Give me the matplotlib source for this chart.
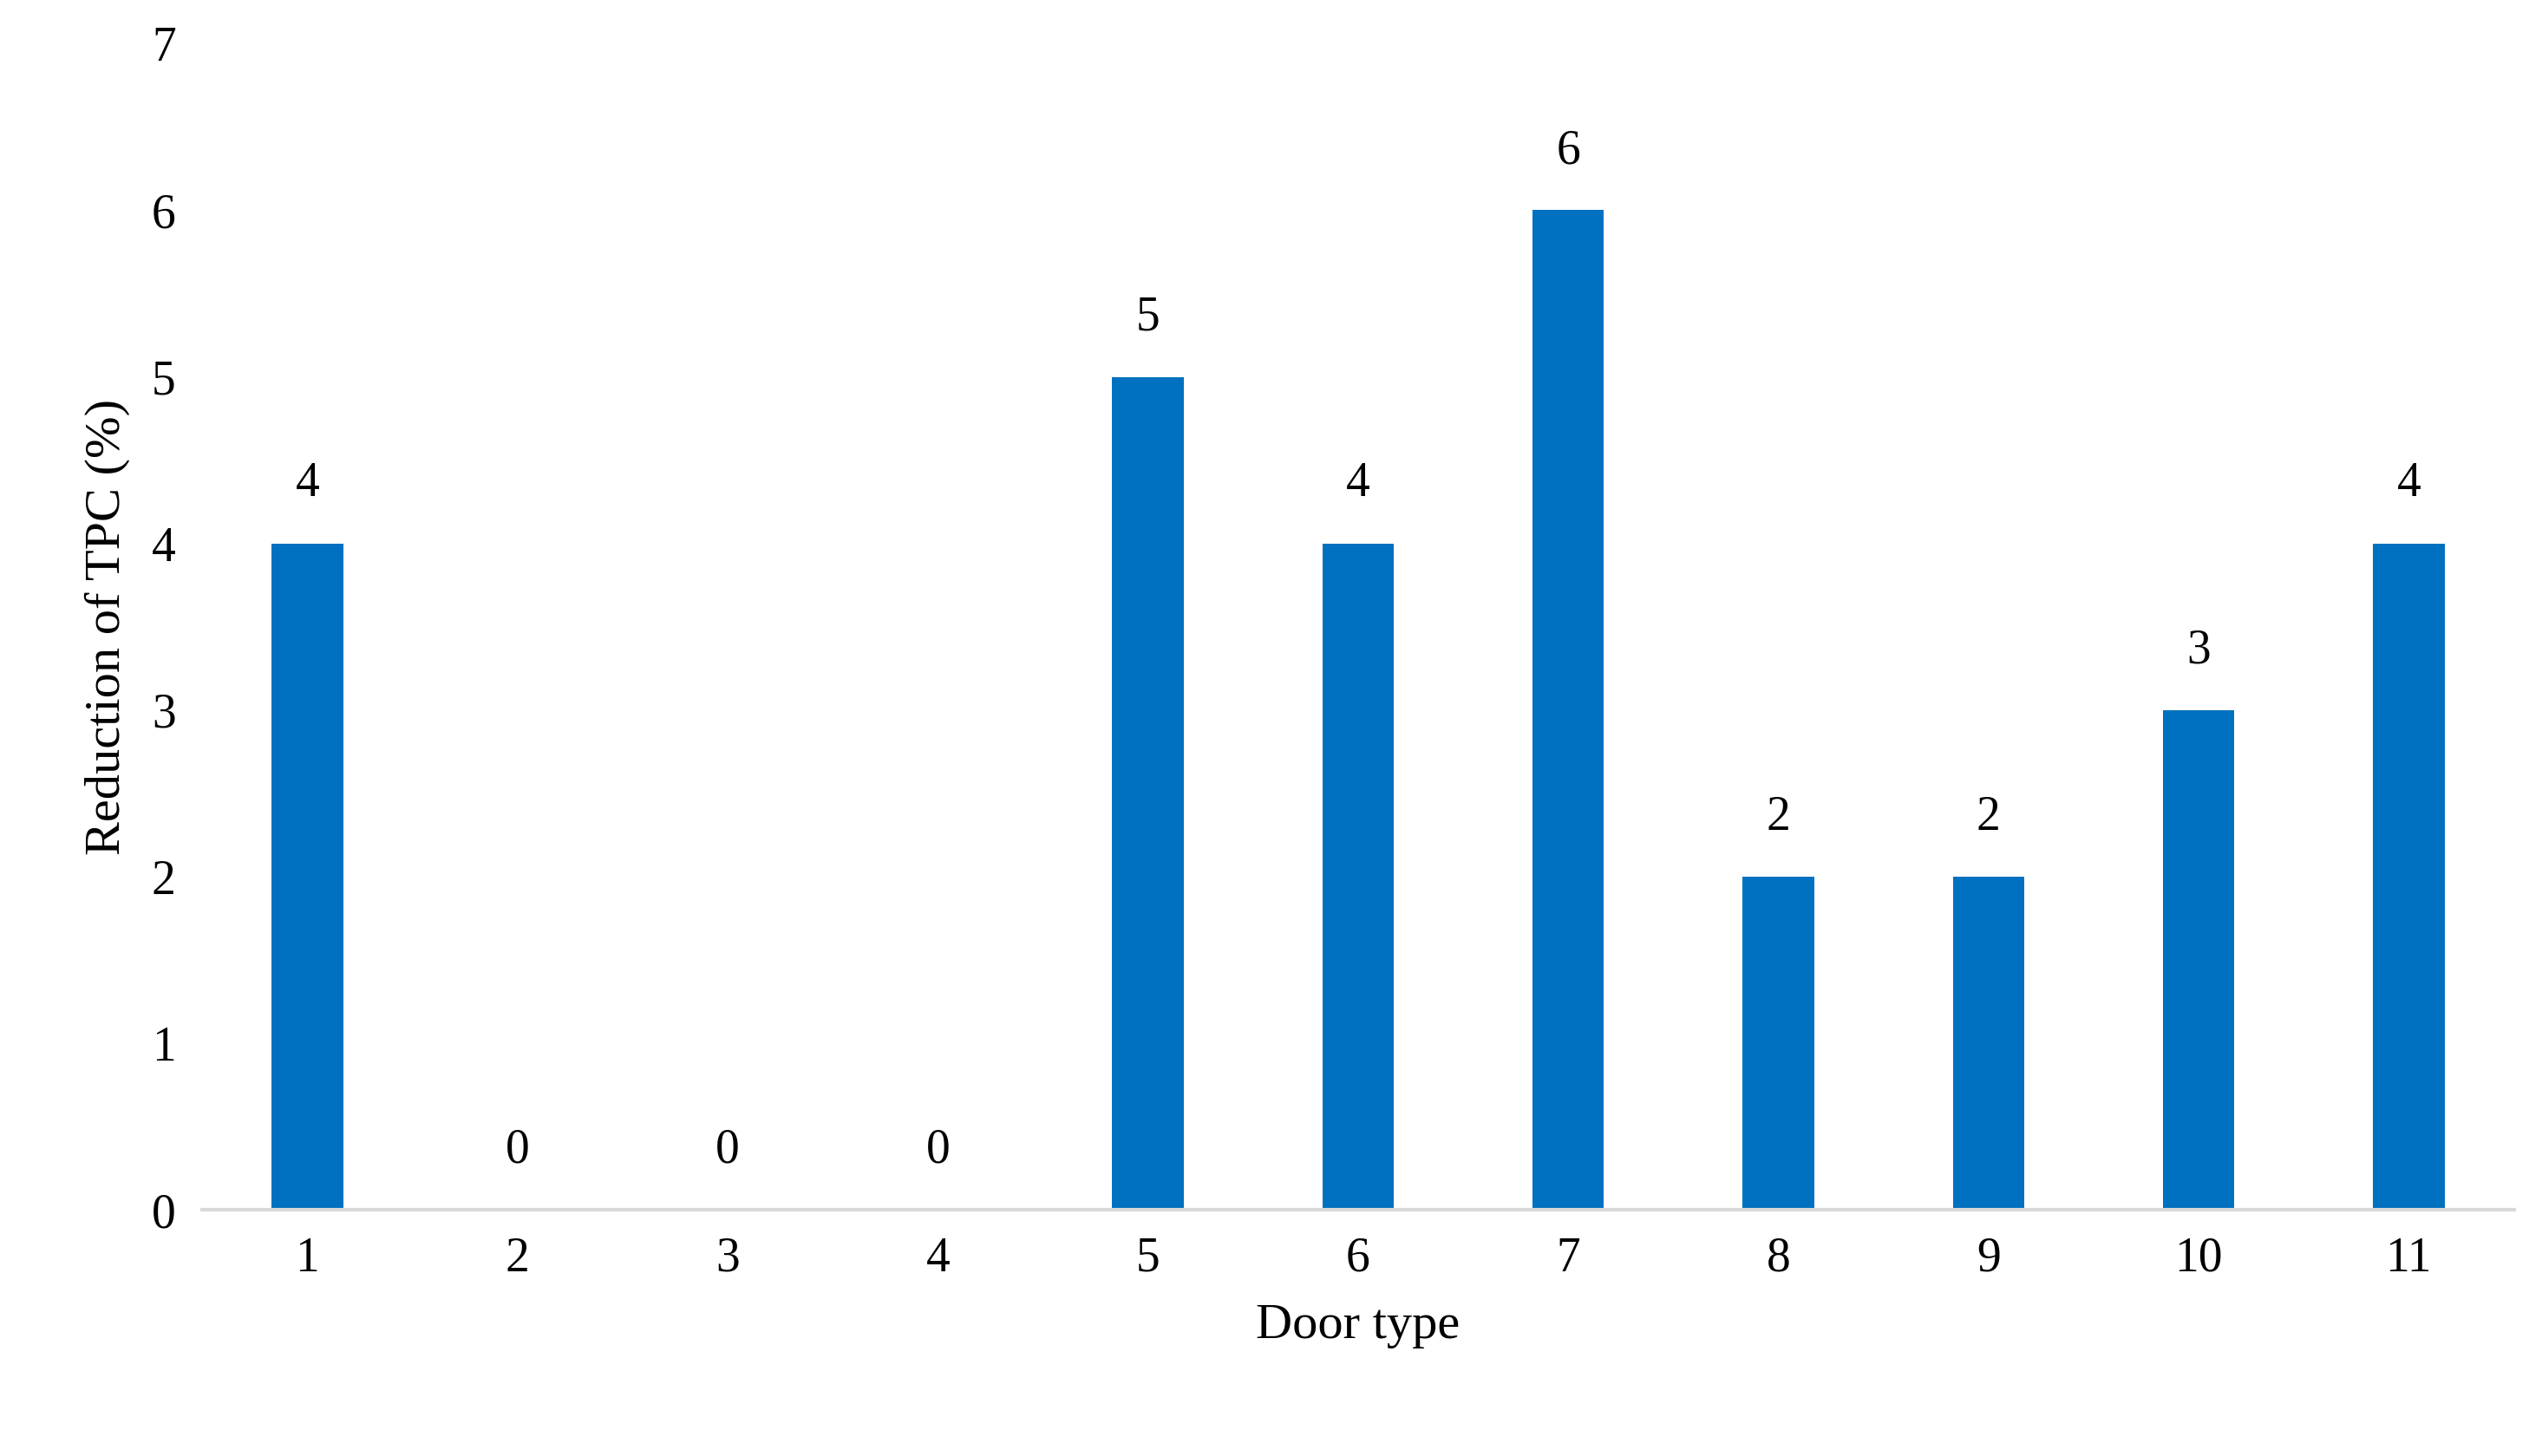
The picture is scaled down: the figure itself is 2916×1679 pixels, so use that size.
import matplotlib.pyplot as plt

door_types = ["1", "2", "3", "4", "5", "6", "7", "8", "9", "10", "11"]
reduction = [4, 0, 0, 0, 5, 4, 6, 2, 2, 3, 4]

plt.rcParams["font.family"] = ["Liberation Serif", "DejaVu Serif"]

fig = plt.figure(figsize=(29.16, 16.79), dpi=100)
ax = fig.add_axes([0.08, 0.169, 0.914, 0.801])

x = list(range(len(door_types)))
bars = ax.bar(x, reduction, width=0.34, color="#0070C0", zorder=2)
for xi, v in zip(x, reduction):
    ax.text(xi, v + 0.22, str(v), ha="center", va="bottom", fontsize=40)

ax.set_xlim(-0.5, len(door_types) - 0.5)
ax.set_ylim(0, 7)
ax.set_xticks(x)
ax.set_xticklabels(door_types)
ax.set_yticks(range(8))
ax.tick_params(axis="both", labelsize=40, length=0, pad=22)
ax.set_xlabel("Door type", fontsize=42, labelpad=18)
ax.set_ylabel("Reduction of TPC (%)", fontsize=42, labelpad=18)

for side in ["top", "right", "left"]:
    ax.spines[side].set_visible(False)
ax.spines["bottom"].set_color("#D9D9D9")
ax.spines["bottom"].set_linewidth(3)

fig.savefig("out.png", dpi=100)
